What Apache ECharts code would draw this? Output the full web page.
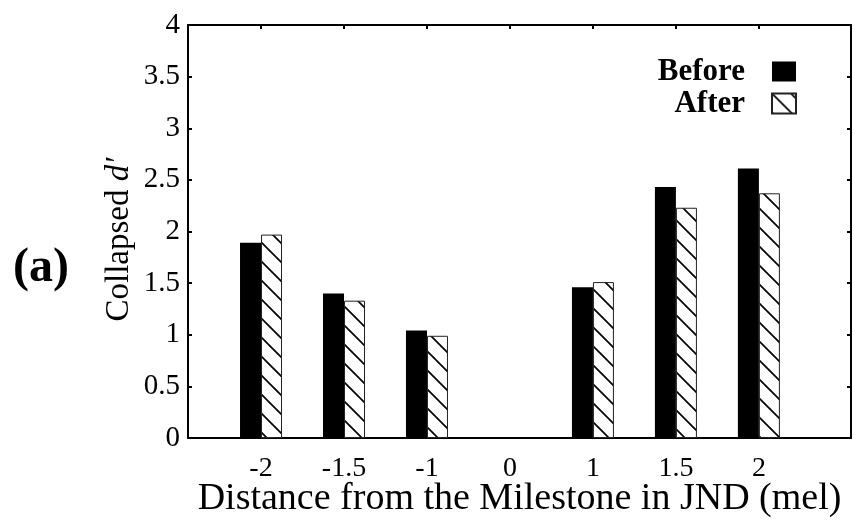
<!DOCTYPE html>
<html>
<head>
<meta charset="utf-8">
<script src="https://cdn.jsdelivr.net/npm/echarts@6/dist/echarts.min.js"></script>
<style>
  html, body { margin: 0; padding: 0; background: #fff; }
  #chart { width: 854px; height: 520px; }
</style>
</head>
<body>
<div id="chart"></div>
<script>
// Distance categories (JND, mel) and collapsed d' per condition
const tickLabels = ['-2', '-1.5', '-1', '0', '1', '1.5', '2'];
const beforeValues = [1.89, 1.40, 1.04, null, 1.46, 2.43, 2.61];
const afterValues  = [1.97, 1.33, 0.99, null, 1.51, 2.23, 2.37];
const seriesNames = ['Before', 'After'];

const FONT = '"Liberation Serif", "Times New Roman", serif';

// Diagonal "\" hatch used for the After bars
function hatchPattern(size) {
  const c = document.createElement('canvas');
  c.width = size; c.height = size;
  const g = c.getContext('2d');
  g.fillStyle = '#fff';
  g.fillRect(0, 0, size, size);
  g.strokeStyle = '#000';
  g.lineWidth = 1.7;
  g.beginPath();
  for (let k = -1; k <= 1; k++) {
    g.moveTo(k * size - 1, -1);
    g.lineTo(k * size + size + 1, size + 1);
  }
  g.stroke();
  return c;
}

const positions = tickLabels.map((_, i) => i);
const toPairs = arr => arr.map((v, i) => [i, v]).filter(p => p[1] !== null);

const lineStyle = { color: '#000', width: 2 };
const X_MIN = -0.88, X_MAX = 7.11;

const chart = echarts.init(document.getElementById('chart'), null, { renderer: 'canvas' });
chart.setOption({
  animation: false,
  backgroundColor: '#fff',
  textStyle: { fontFamily: FONT, color: '#000' },
  grid: { left: 188, right: 3, top: 25, bottom: 82, containLabel: false, outerBoundsMode: 'none' },
  legend: {
    orient: 'vertical',
    right: 52,
    top: 51,
    align: 'right',
    icon: 'rect',
    itemWidth: 24,
    itemHeight: 20,
    itemGap: 1,
    data: seriesNames,
    textStyle: { fontFamily: FONT, fontWeight: 'bold', fontSize: 31, color: '#000', padding: [0, 22, 0, 0] }
  },
  graphic: [{
    type: 'text',
    left: 13,
    top: 245,
    style: { text: '(a)', font: 'bold 48px ' + FONT, fill: '#000' }
  }],
  xAxis: [{
    type: 'value',
    min: X_MIN,
    max: X_MAX,
    position: 'bottom',
    axisLine: { show: true, onZero: false, lineStyle: lineStyle },
    axisTick: { show: false },
    splitLine: { show: false },
    axisLabel: {
      customValues: positions,
      formatter: v => tickLabels[Math.round(v)],
      fontFamily: FONT, fontSize: 28, color: '#000', margin: 17
    },
    name: 'Distance from the Milestone in JND (mel)',
    nameLocation: 'middle',
    nameGap: 42,
    nameMoveOverlap: false,
    nameTextStyle: { fontFamily: FONT, fontSize: 38, color: '#000' }
  }, {
    type: 'value',
    min: X_MIN,
    max: X_MAX,
    position: 'top',
    axisLine: { show: true, onZero: false, lineStyle: lineStyle },
    axisTick: { show: true, inside: true, length: 4, customValues: positions, lineStyle: lineStyle },
    axisLabel: { show: false },
    splitLine: { show: false }
  }],
  yAxis: [{
    type: 'value',
    min: 0,
    max: 4,
    interval: 0.5,
    position: 'left',
    axisLine: { show: true, onZero: false, lineStyle: lineStyle },
    axisTick: { show: true, inside: true, length: 4, lineStyle: lineStyle },
    splitLine: { show: false },
    axisLabel: { fontFamily: FONT, fontSize: 29, color: '#000', margin: 8 },
    name: '{n|Collapsed }{d|d′}',
    nameLocation: 'middle',
    nameRotate: 90,
    nameGap: 52,
    nameMoveOverlap: false,
    nameTextStyle: {
      padding: [0, 16, 0, 0],
      rich: {
        n: { fontFamily: FONT, fontSize: 33, color: '#000' },
        d: { fontFamily: FONT, fontSize: 33, fontStyle: 'italic', color: '#000' }
      }
    }
  }, {
    type: 'value',
    min: 0,
    max: 4,
    interval: 0.5,
    position: 'right',
    axisLine: { show: true, onZero: false, lineStyle: lineStyle },
    axisTick: { show: true, inside: true, length: 4, lineStyle: lineStyle },
    axisLabel: { show: false },
    splitLine: { show: false }
  }],
  series: [{
    name: seriesNames[0],
    type: 'bar',
    xAxisIndex: 0,
    yAxisIndex: 0,
    barWidth: 21,
    barGap: '0%',
    itemStyle: { color: '#000' },
    data: toPairs(beforeValues)
  }, {
    name: seriesNames[1],
    type: 'bar',
    xAxisIndex: 0,
    yAxisIndex: 0,
    barWidth: 21,
    barGap: '0%',
    itemStyle: {
      color: { image: hatchPattern(19), repeat: 'repeat' },
      borderColor: '#222',
      borderWidth: 1
    },
    data: toPairs(afterValues)
  }]
});
</script>
</body>
</html>
